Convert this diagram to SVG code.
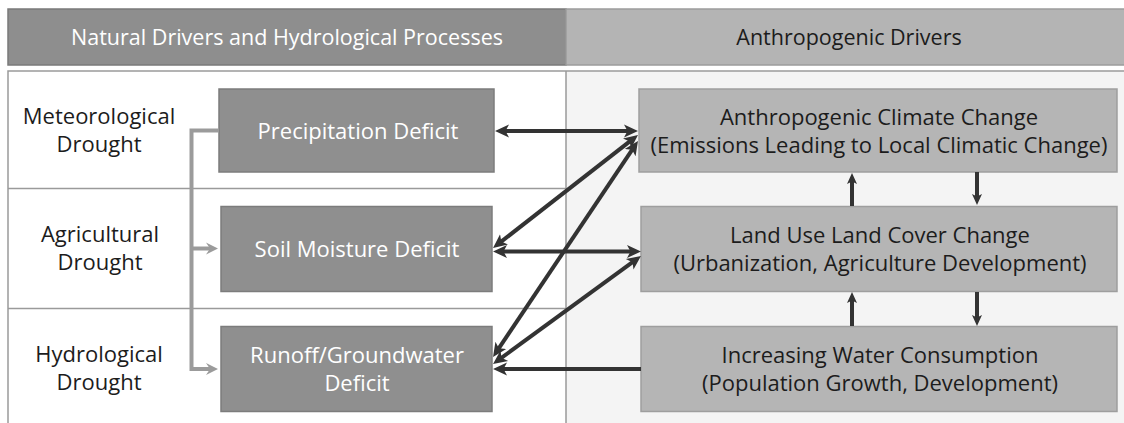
<svg xmlns="http://www.w3.org/2000/svg" width="1124" height="423" viewBox="0 0 1124 423">
  <style>
    text { font-family: "Open Sans", "Noto Sans", "Liberation Sans", sans-serif; font-size: 22px; text-anchor: middle; }
    .head-text { font-size: 21.5px; }
    .hdr-l { fill: #8e8e8e; stroke: #7a7a7a; stroke-width: 1.5; }
    .hdr-r { fill: #b4b4b4; stroke: #9c9c9c; stroke-width: 1.5; }
    .proc { fill: #8f8f8f; stroke: #7c7c7c; stroke-width: 1.5; }
    .drv { fill: #b5b5b5; stroke: #9e9e9e; stroke-width: 1.5; }
    .light { fill: #ffffff; }
    .dark { fill: #1c1c1c; }
    .grid { stroke: #9a9a9a; stroke-width: 1.5; fill: none; }
    .link { stroke: #333333; stroke-width: 4; fill: none; }
    .feed { stroke: #9b9b9b; stroke-width: 4; fill: none; }
  </style>
  <defs>
    <marker id="head" markerUnits="userSpaceOnUse" markerWidth="15" markerHeight="15" viewBox="0 0 15 15" refX="4" refY="7.5" orient="auto-start-reverse">
      <path d="M0,1 L14,7.5 L0,14 L3.5,7.5 z" fill="#333333"/>
    </marker>
    <marker id="head-s" markerUnits="userSpaceOnUse" markerWidth="12" markerHeight="12" viewBox="0 0 12 12" refX="3" refY="6" orient="auto-start-reverse">
      <path d="M0,1 L11,6 L0,11 L2.5,6 z" fill="#333333"/>
    </marker>
    <marker id="head-g" markerUnits="userSpaceOnUse" markerWidth="14" markerHeight="14" viewBox="0 0 14 14" refX="4" refY="7" orient="auto">
      <path d="M0,1 L12,7 L0,13 L4,7 z" fill="#9b9b9b"/>
    </marker>
  </defs>

  <rect width="1124" height="423" fill="#ffffff"/>

  <!-- column headers -->
  <g id="header-natural">
    <rect class="hdr-l" x="8" y="9" width="558" height="56"/>
    <text class="light head-text" x="287" y="45">Natural Drivers and Hydrological Processes</text>
  </g>
  <g id="header-anthropogenic">
    <rect class="hdr-r" x="566" y="9" width="560" height="56"/>
    <text class="dark head-text" x="849" y="45">Anthropogenic Drivers</text>
  </g>

  <!-- panel background and row grid -->
  <g id="panel">
    <rect x="566" y="71" width="560" height="360" fill="#f4f4f4"/>
    <path class="grid" d="M8,430 V71 H1126"/>
    <line class="grid" x1="566" y1="71" x2="566" y2="430"/>
    <line class="grid" x1="8" y1="188.5" x2="566" y2="188.5"/>
    <line class="grid" x1="8" y1="308.5" x2="566" y2="308.5"/>
  </g>

  <!-- drought type labels -->
  <g id="label-meteorological">
    <text class="dark" x="99" y="124">Meteorological</text>
    <text class="dark" x="99" y="152">Drought</text>
  </g>
  <g id="label-agricultural">
    <text class="dark" x="100" y="242">Agricultural</text>
    <text class="dark" x="100" y="270">Drought</text>
  </g>
  <g id="label-hydrological">
    <text class="dark" x="99" y="362">Hydrological</text>
    <text class="dark" x="99" y="390">Drought</text>
  </g>

  <!-- hydrological process nodes -->
  <g id="precipitation-deficit">
    <rect class="proc" x="219" y="89" width="275" height="83"/>
    <text class="light" x="358" y="138.5">Precipitation Deficit</text>
  </g>
  <g id="soil-moisture-deficit">
    <rect class="proc" x="221" y="206.5" width="271" height="85"/>
    <text class="light" x="357" y="257">Soil Moisture Deficit</text>
  </g>
  <g id="runoff-groundwater-deficit">
    <rect class="proc" x="221" y="326.5" width="271" height="85"/>
    <text class="light" x="357" y="363">Runoff/Groundwater</text>
    <text class="light" x="357" y="391">Deficit</text>
  </g>

  <!-- anthropogenic driver nodes -->
  <g id="climate-change">
    <rect class="drv" x="639" y="89" width="478" height="83"/>
    <text class="dark" x="879" y="125">Anthropogenic Climate Change</text>
    <text class="dark" x="879" y="153">(Emissions Leading to Local Climatic Change)</text>
  </g>
  <g id="land-use-change">
    <rect class="drv" x="641" y="206.5" width="476" height="85"/>
    <text class="dark" x="880" y="242.5">Land Use Land Cover Change</text>
    <text class="dark" x="880" y="270.5">(Urbanization, Agriculture Development)</text>
  </g>
  <g id="water-consumption">
    <rect class="drv" x="641" y="326.5" width="476" height="85"/>
    <text class="dark" x="880" y="363">Increasing Water Consumption</text>
    <text class="dark" x="880" y="391">(Population Growth, Development)</text>
  </g>

  <!-- connectors -->
  <g id="connectors">
    <!-- propagation of deficit through the hydrological cycle -->
    <path class="feed" d="M219,130.5 H191.5 V369 H210" marker-end="url(#head-g)"/>
    <path class="feed" d="M191.5,248.5 H210" marker-end="url(#head-g)"/>

    <!-- natural processes and anthropogenic drivers -->
    <line class="link" x1="505" y1="131" x2="628" y2="131" marker-start="url(#head)" marker-end="url(#head)"/>
    <line class="link" x1="500.9" y1="241.9" x2="630.1" y2="141.1" marker-start="url(#head)" marker-end="url(#head)"/>
    <line class="link" x1="498.6" y1="348.7" x2="632.4" y2="149.3" marker-start="url(#head)" marker-end="url(#head)"/>
    <line class="link" x1="503" y1="251.5" x2="631" y2="251.5" marker-start="url(#head)" marker-end="url(#head)"/>
    <line class="link" x1="501.1" y1="358.1" x2="632.9" y2="261.9" marker-start="url(#head)" marker-end="url(#head)"/>
    <line class="link" x1="641" y1="369" x2="503" y2="369" marker-end="url(#head)"/>

    <!-- feedbacks between anthropogenic drivers -->
    <line class="link" x1="852" y1="206" x2="852" y2="181" marker-end="url(#head-s)"/>
    <line class="link" x1="977" y1="172" x2="977" y2="197" marker-end="url(#head-s)"/>
    <line class="link" x1="852" y1="326" x2="852" y2="300" marker-end="url(#head-s)"/>
    <line class="link" x1="977" y1="292" x2="977" y2="318" marker-end="url(#head-s)"/>
  </g>
</svg>
